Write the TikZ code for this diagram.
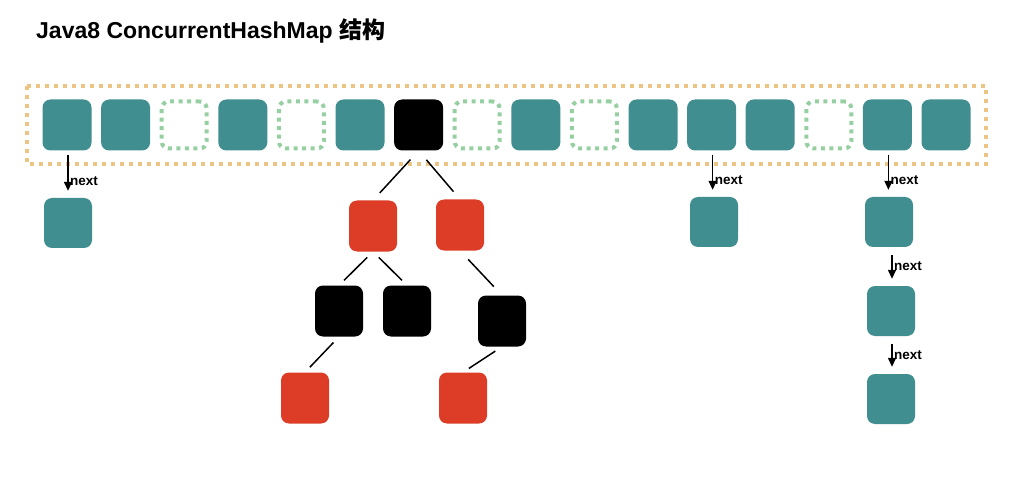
\documentclass[tikz,border=0pt]{standalone}
\usepackage{fontspec}
\setmainfont{Liberation Sans}
\newfontfamily\cjk{Noto Sans CJK SC}
\usetikzlibrary{arrows.meta}

\definecolor{tealfill}{RGB}{64,142,143}
\definecolor{redfill}{RGB}{221,61,38}
\definecolor{dotgreen}{RGB}{150,207,162}
\definecolor{dotorange}{RGB}{236,196,132}

\tikzset{
    bin/.style={rounded corners=8pt, minimum width=49pt, minimum height=51pt, inner sep=0pt, fill=tealfill},
    nullbin/.style={rounded corners=7pt, minimum width=45pt, minimum height=47pt, inner sep=0pt, draw=dotgreen, line width=4pt, dash pattern=on 4pt off 4.5pt},
    treebin/.style={bin, fill=black},
    rednode/.style={bin, fill=redfill},
    blacknode/.style={bin, fill=black},
    listnode/.style={bin, minimum width=48pt, minimum height=50pt},
    nextarrow/.style={-{Triangle[width=8pt,length=9pt]}, line width=1.4pt},
    branch/.style={line width=1.5pt, shorten <=12pt, shorten >=10pt},
    nextlabel/.style={font=\fontsize{13.5}{15}\selectfont\bfseries, anchor=west, inner sep=1.5pt}
}

\begin{document}
\begin{tikzpicture}[x=1pt, y=-1pt]
    \useasboundingbox (0,0) rectangle (1035,478);

    % Title
    \node[anchor=west, inner sep=0pt, font=\fontsize{23}{26}\selectfont\bfseries] (title) at (36,31) {Java8 ConcurrentHashMap {\cjk 结构}};

    % Table frame
    \draw[dotorange, line width=4pt, dash pattern=on 4pt off 5pt] (27,86) rectangle (986,164);

    % Table buckets
    \foreach \k/\kind in {1/bin,2/bin,3/nullbin,4/bin,5/nullbin,6/bin,7/treebin,8/nullbin,
                          9/bin,10/nullbin,11/bin,12/bin,13/bin,14/nullbin,15/bin,16/bin} {
        \node[\kind] (b\k) at ({67+58.6*(\k-1)}, 125) {};
    }

    % Linked list under bucket 1
    \node[listnode] (l1) at (68,223) {};
    \draw[nextarrow, shorten <=4pt, shorten >=7pt] ([xshift=1pt]b1.south) -- ([xshift=1pt]b1.south |- l1.north) node[nextlabel, pos=0.65] {next};

    % Linked list under bucket 12
    \node[listnode] (l12) at (714,222) {};
    \draw[nextarrow, shorten <=4pt, shorten >=7pt] ([xshift=1pt]b12.south) -- ([xshift=1pt]b12.south |- l12.north) node[nextlabel, pos=0.64] {next};

    % Linked list under bucket 15
    \node[listnode] (c1) at (889,222) {};
    \node[listnode] (c2) at (891,311) {};
    \node[listnode] (c3) at (891,399) {};
    \draw[nextarrow, shorten <=4pt, shorten >=7pt] ([xshift=1pt]b15.south) -- ([xshift=1pt]b15.south |- c1.north) node[nextlabel, pos=0.64] {next};
    \draw[nextarrow, shorten <=8pt, shorten >=7pt] ([xshift=1pt]c2.north |- c1.south) -- ([xshift=1pt]c2.north) node[nextlabel, pos=0.5] {next};
    \draw[nextarrow, shorten <=8pt, shorten >=7pt] ([xshift=1pt]c2.south) -- ([xshift=1pt]c3.north) node[nextlabel, pos=0.5] {next};

    % Red-black tree under bucket 7
    \node[rednode, minimum width=48pt] (r1) at (373,226) {};
    \node[rednode, minimum width=48pt] (r2) at (460,225) {};
    \node[blacknode, minimum width=48pt] (k1) at (339,311) {};
    \node[blacknode, minimum width=48pt] (k2) at (407,311) {};
    \node[blacknode, minimum width=48pt] (k3) at (502,321) {};
    \node[rednode, minimum width=48pt] (r3) at (305,398) {};
    \node[rednode, minimum width=48pt] (r4) at (463,398) {};

    \draw[branch] (b7.south) -- (r1.north);
    \draw[branch] (b7.south) -- (r2.north);
    \draw[branch, shorten <=8pt, shorten >=7pt] (r1.south) -- (k1.north);
    \draw[branch, shorten <=8pt, shorten >=7pt] (r1.south) -- (k2.north);
    \draw[branch, shorten <=12pt, shorten >=12pt] (r2.south) -- (k3.north);
    \draw[branch, shorten <=8pt, shorten >=7pt] (k1.south) -- (r3.north);
    \draw[branch, shorten <=8pt, shorten >=7pt] (k3.south) -- (r4.north);

\end{tikzpicture}
\end{document}
